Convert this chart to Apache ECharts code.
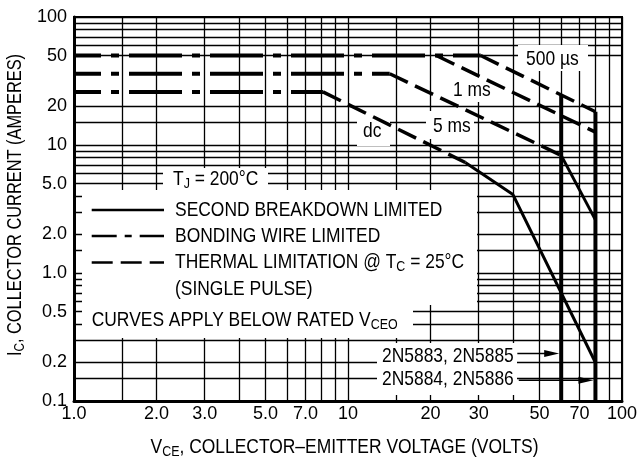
<!DOCTYPE html>
<html><head><meta charset="utf-8">
<script src="https://cdn.jsdelivr.net/npm/echarts@6/dist/echarts.min.js"></script>
<style>html,body{margin:0;padding:0;background:#fff}#c{width:640px;height:462px}</style>
</head><body><div id="c"></div>
<script>
// ---- grid / tick values ----
const xGridValues = [1,1.5,2,3,4,5,6,7,8,9,10,15,20,30,40,50,60,70,80,90,100];
const yGridValues = [0.1,0.15,0.2,0.3,0.4,0.5,0.6,0.7,0.8,0.9,1,1.5,2,3,4,5,6,7,8,9,10,15,20,50,60,70,80,90,100];
const xTickLabels = [1,2,3,5,7,10,20,30,50,70,100];
const yTickLabels = [0.1,0.2,0.5,1,2,5,10,20,50,100];

// ---- curves: [VCE (V), IC (A)] ----
// bonding wire limited (dash-dot)
const bondPulse = [[1,50],[30.5,50]];
const bond5ms   = [[1,36],[14.2,36]];
const bondDc    = [[1,26],[8.1,26]];
// thermal limitation (dashed)
const thermal500us = [[30.5,50],[80,18.2]];
const thermal1ms   = [[21,50],[80,12.6]];
const thermal5ms   = [[14.2,36],[60,8.3]];
const thermalDc    = [[8.1,26],[26.8,7.3]];
// second breakdown limited (solid)
const secondBd5ms = [[60,8.3],[80,2.6]];
const secondBdDc  = [[26.8,7.3],[40,4.1],[80,0.2]];
// rated VCEO limits
const vceo60 = [[60,24.4],[60,0.1]];
const vceo80 = [[80,18.2],[80,0.1]];
// device arrows: [from V, to V, IC]
const deviceArrows = [[41.5,60,0.235],[42,80,0.145]];

const FONT = "'Liberation Sans',Arial,Helvetica,sans-serif";
const FS = 21;
const SX = 0.83;

function fmtX(v){ return v < 10 ? v.toFixed(1) : String(Math.round(v)); }
function fmtY(v){ return v < 1 ? String(v) : (v < 10 ? v.toFixed(1) : String(Math.round(v))); }

function curve(data, width, type, dashOffset){
  return {type:'line', data:data, symbol:'none', showSymbol:false, silent:true, z:5, clip:false,
    lineStyle:{color:'#000', width:width, type:type, dashOffset:dashOffset||0, cap:'butt'}};
}
const DASHDOT = [53,10,8,10];
const DASH = [20,8];

const rich = {
  b:{fontSize:FS, fontFamily:FONT, color:'#000', lineHeight:24},
  s:{fontSize:15, fontFamily:FONT, color:'#000', lineHeight:12, verticalAlign:'bottom'}
};
function txt(text, x, y, align, rot, sx){
  const o = {type:'text', z:10, x:x, y:y, silent:true, scaleX:sx||SX,
    style:{text:text, rich:rich, align:align||'left', verticalAlign:'middle', fill:'#000', font: FS+'px '+FONT}};
  if (rot) o.rotation = rot;
  return o;
}
function box(x,y,w,h){ return {type:'rect', z:1, silent:true, shape:{x:x,y:y,width:w,height:h}, style:{fill:'#fff'}}; }
function sample(y, dash){ return {type:'line', z:10, silent:true, shape:{x1:91.7,y1:y,x2:164,y2:y}, style:{stroke:'#000', lineWidth:2.5, lineDash:dash||null}}; }

const axisLabelStyle = {fontFamily:FONT, fontSize:18, color:'#000'};

const chart = echarts.init(document.getElementById('c'), null, {renderer:'canvas'});
chart.setOption({
  animation:false,
  backgroundColor:'#fff',
  grid:{left:74, right:17, top:17, bottom:61, show:true, borderColor:'#000', borderWidth:2, backgroundColor:'transparent'},
  xAxis:{type:'log', logBase:10, min:1, max:100, z:0,
    axisLine:{show:true, lineStyle:{color:'#000', width:3}},
    axisTick:{show:false, customValues:xGridValues},
    minorTick:{show:false}, minorSplitLine:{show:false},
    splitLine:{show:true, lineStyle:{color:'#000', width:1.3}},
    axisLabel:Object.assign({customValues:xTickLabels, formatter:fmtX, margin:4}, axisLabelStyle)
  },
  yAxis:{type:'log', logBase:10, min:0.1, max:100, z:0,
    axisLine:{show:true, lineStyle:{color:'#000', width:3}},
    axisTick:{show:false, customValues:yGridValues},
    minorTick:{show:false}, minorSplitLine:{show:false},
    splitLine:{show:true, lineStyle:{color:'#000', width:1.3}},
    axisLabel:Object.assign({customValues:yTickLabels, formatter:fmtY, margin:7}, axisLabelStyle)
  },
  series:[
    curve(bondPulse, 4, DASHDOT, 26),
    curve(bond5ms, 4, DASHDOT, 26),
    curve(bondDc, 4, DASHDOT, 26),
    curve(thermal500us, 3.5, DASH),
    curve(thermal1ms, 3.5, DASH),
    curve(thermal5ms, 3.5, DASH),
    curve(thermalDc, 3.5, DASH),
    curve(secondBd5ms, 3, 'solid'),
    curve(secondBdDc, 3, 'solid'),
    curve(vceo60, 4, 'solid'),
    curve(vceo80, 4, 'solid'),
    {type:'custom', z:6, silent:true, data:deviceArrows, encode:{x:[0,1], y:2},
      renderItem:function(params, api){
        const y = api.value(2);
        const p1 = api.coord([api.value(0), y]);
        const p2 = api.coord([api.value(1), y]);
        const tip = p2[0]-2, L = 15, H = 3.5;
        return {type:'group', children:[
          {type:'line', shape:{x1:p1[0], y1:p1[1], x2:tip-L+2, y2:p1[1]}, style:{stroke:'#000', lineWidth:1.5}},
          {type:'polygon', shape:{points:[[tip,p1[1]],[tip-L,p1[1]-H],[tip-L,p1[1]+H]]}, style:{fill:'#000'}}
        ]};
      }}
  ],
  graphic:[
    box(163,168,105,23),
    box(82,190,395,115),
    box(82,305,331,33),
    box(518,45,70,26),
    box(447,77,47,25),
    box(426,111,48,28),
    box(357,116,33,30),
    box(377,343,140,25),
    box(377,368,140,27),
    txt('{b|T}{s|J}{b| = 200°C}', 173, 179),
    sample(210),
    sample(236, [25,8,7,8]),
    sample(262.5, [21,8]),
    txt('{b|SECOND BREAKDOWN LIMITED}', 175, 210.5),
    txt('{b|BONDING WIRE LIMITED}', 175, 236),
    txt('{b|THERMAL LIMITATION @ T}{s|C}{b| = 25°C}', 175, 262.5),
    txt('{b|(SINGLE PULSE)}', 175, 289),
    txt('{b|CURVES APPLY BELOW RATED V}{s|CEO}', 91.7, 320),
    txt('{b|500 µs}', 526, 59),
    txt('{b|1 ms}', 453, 90),
    txt('{b|5 ms}', 433, 126.5),
    txt('{b|dc}', 363, 131.5),
    txt('{b|2N5883, 2N5885}', 382, 356.5),
    txt('{b|2N5884, 2N5886}', 382, 379.5),
    txt('{b|V}{s|CE}{b|, COLLECTOR–EMITTER VOLTAGE (VOLTS)}', 344.5, 447, 'center'),
    txt('{b|I}{s|C}{b|, COLLECTOR CURRENT (AMPERES)}', 15.5, 205, 'center', Math.PI/2, 0.78)
  ]
});
</script></body></html>
